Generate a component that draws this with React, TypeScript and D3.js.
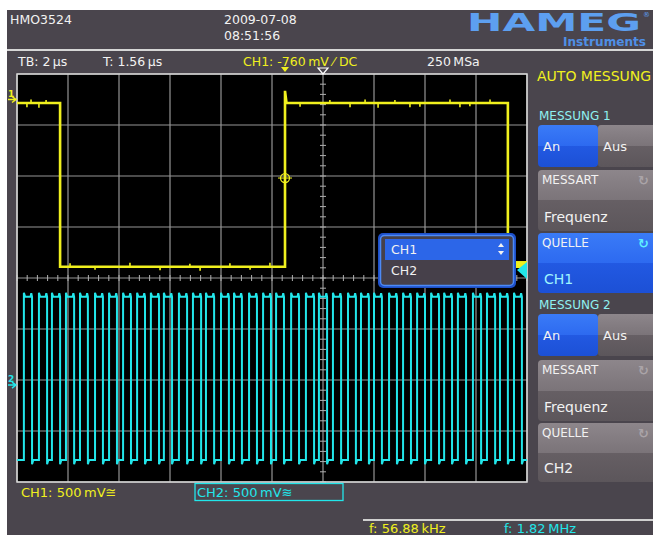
import React from "react";
import * as d3 from "d3";

// time in µs (2 µs/div), amplitude in divisions (centre line = 0)
const ch1Edges = [-10.31, -1.49, 7.25];
const ch1Levels = [3.43, 0.22, 3.43, 0.22];
const ch1Glitches: [number, number][] = [
  [-11.61, -0.08], [-11.45, 0.07], [-11.14, -0.09], [-10.86, 0.06],
  [-9.92, 0.07], [-8.94, -0.06], [-7.57, 0.08], [-6.39, -0.07], [-5.22, 0.06],
  [-4.82, -0.08], [-3.65, 0.07], [-2.86, -0.06], [-2.08, 0.08],
  [-0.9, -0.07], [0.27, 0.06], [1.06, -0.08], [1.65, 0.07], [2.16, -0.09],
  [2.82, 0.06], [3.41, -0.08], [3.8, -0.07], [4.98, 0.07], [5.37, -0.08],
  [5.76, -0.06], [6.55, 0.07],
];
const ch1TrigOvershoot = 3.67;
const ch1TrigLevel = 1.96;

const ch2Rise = [
  -11.73, -11.14, -10.63, -10.08, -9.53, -8.94, -8.39, -7.84, -7.29, -6.75,
  -6.24, -5.65, -5.1, -4.59, -4.0, -3.49, -2.9, -2.35, -1.84, -1.25, -0.67,
  -0.16, 0.39, 0.98, 1.49, 2.0, 2.59, 3.14, 3.69, 4.24, 4.75, 5.29, 5.88,
  6.43, 6.94, 7.49,
];
const ch2Fall = [
  -11.41, -10.82, -10.31, -9.76, -9.22, -8.63, -8.08, -7.53, -6.98, -6.43,
  -5.92, -5.33, -4.78, -4.27, -3.69, -3.18, -2.59, -2.04, -1.53, -0.94, -0.35,
  0.16, 0.71, 1.29, 1.8, 2.31, 2.9, 3.45, 4.0, 4.55, 5.06, 5.61, 6.2, 6.75,
  7.25, 7.8,
];
const ch2High = -0.37;
const ch2Low = -3.57;

const topReadouts = ["TB: 2\u2009\u00b5s", "T: 1.56\u2009\u00b5s"];
const measSources = ["CH1", "CH2"];
const freqReadouts = ["f: 56.88\u2009kHz", "f: 1.82\u2009MHz"];

const FONT = "'DejaVu Sans', sans-serif";
const YEL = "#f0f01e";
const CYAN = "#22e6ea";
const BG = "#4a454d";

const x = d3.scaleLinear().domain([-12, 12]).range([17, 629]);
const y = d3.scaleLinear().domain([-4, 4]).range([482, 74]);
const tMin = -12;
const tMax = 8;
const gx0 = x(tMin);
const gx1 = x(tMax);

const line = d3
  .line<[number, number]>()
  .x((d) => x(d[0]))
  .y((d) => y(d[1]));

function ch1Points(): [number, number][] {
  const pts: [number, number][] = [[tMin, ch1Levels[0]]];
  ch1Edges.forEach((t, i) => {
    pts.push([t, ch1Levels[i]]);
    if (ch1Levels[i + 1] > ch1Levels[i]) {
      pts.push([t, ch1TrigOvershoot]);
      pts.push([t + 0.06, ch1Levels[i + 1]]);
    } else pts.push([t, ch1Levels[i + 1]]);
  });
  pts.push([tMax, ch1Levels[ch1Levels.length - 1]]);
  return pts;
}

function ch2Points(): [number, number][] {
  const pts: [number, number][] = [[tMin, ch2Low]];
  ch2Rise.forEach((r, i) => {
    const f = ch2Fall[i];
    pts.push([r, ch2Low], [r, ch2High + 0.08], [r + 0.05, ch2High]);
    pts.push([f - 0.06, ch2High], [f - 0.03, ch2High + 0.07], [f, ch2High]);
    pts.push([f, ch2Low - 0.08], [f + 0.05, ch2Low]);
  });
  pts.push([tMax, ch2Low]);
  return pts;
}

const Panel = ({ yTop, h, blue, label, value, iconColor }: any) => (
  <g>
    <rect x={538} y={yTop} width={125} height={h} rx={4}
      fill={blue ? "url(#gBlue)" : "url(#gGrey)"} />
    <text x={542} y={yTop + 14} fill="#f2f2f2" fontSize={12}>{label}</text>
    <text x={638} y={yTop + 15} fill={iconColor} fontSize={13}
      fontWeight="bold">{"\u21bb"}</text>
    <text x={544} y={yTop + h - 9} fill={blue ? "#9ff4ff" : "#f2f2f2"}
      fontSize={14}>{value}</text>
  </g>
);

const OnOff = ({ yTop }: { yTop: number }) => (
  <g>
    <rect x={538} y={yTop} width={60} height={42} rx={4} fill="url(#gBlue)" />
    <rect x={598} y={yTop} width={65} height={42} rx={3} fill="url(#gGrey)" />
    <text x={543} y={yTop + 26} fill="#f2f2f2" fontSize={13}>An</text>
    <text x={603} y={yTop + 26} fill="#f2f2f2" fontSize={13}>Aus</text>
  </g>
);

export default function App() {
  const vLines = d3.range(tMin, tMax + 0.01, 2);
  const hLines = d3.range(-4, 4.01, 1);
  const vTicks = d3.range(-4, 4.01, 0.2);
  const hTicks = d3.range(tMin, tMax + 0.01, 0.4);

  return (
    <div style={{ position: "absolute", left: 0, top: 0 }}>
      <svg width={653} height={535} fontFamily={FONT}
        style={{ display: "block" }}>
        <defs>
          <linearGradient id="gBlue" x1="0" x2="0" y1="0" y2="1">
            <stop offset="0" stopColor="#3a7bf7" />
            <stop offset="0.5" stopColor="#2d6af0" />
            <stop offset="0.5" stopColor="#2259e2" />
            <stop offset="1" stopColor="#1c50d6" />
          </linearGradient>
          <linearGradient id="gGrey" x1="0" x2="0" y1="0" y2="1">
            <stop offset="0" stopColor="#8d868b" />
            <stop offset="0.5" stopColor="#7b7479" />
            <stop offset="0.5" stopColor="#665f64" />
            <stop offset="1" stopColor="#5c565b" />
          </linearGradient>
          <clipPath id="grid">
            <rect x={gx0} y={y(4)} width={gx1 - gx0} height={y(-4) - y(4)} />
          </clipPath>
        </defs>

        <rect width={653} height={535} fill="#fff" />
        <rect x={7} y={10} width={646} height={525} fill={BG} />

        {/* header */}
        <text x={10} y={24} fill="#f2f2f2" fontSize={12.5}>HMO3524</text>
        <text x={224} y={24} fill="#f2f2f2" fontSize={12.5}>2009-07-08</text>
        <text x={224} y={40} fill="#f2f2f2" fontSize={12.5}>08:51:56</text>
        <text x={467} y={31} fill="#5d9ff0" fontSize={24} fontWeight="bold"
          textLength={174} lengthAdjust="spacingAndGlyphs">HAMEG</text>
        <text x={643} y={17} fill="#5d9ff0" fontSize={7}>{"\u00ae"}</text>
        <text x={563} y={46} fill="#4f8fe6" fontSize={13} fontWeight="bold"
          textLength={83} lengthAdjust="spacingAndGlyphs">Instruments</text>
        <line x1={7} x2={653} y1={50} y2={50} stroke="#d6d6d6" strokeWidth={2} />

        <text x={18} y={66} fill="#f2f2f2" fontSize={12.5}>{topReadouts[0]}</text>
        <text x={103} y={66} fill="#f2f2f2" fontSize={12.5}>{topReadouts[1]}</text>
        <text x={243} y={66} fill={YEL} fontSize={12.5}>
          {"CH1: -760\u2009mV \u2044 DC"}
        </text>
        <text x={427} y={66} fill="#f2f2f2" fontSize={12.5}>{"250\u2009MSa"}</text>

        {/* grid */}
        <rect x={gx0} y={y(4)} width={gx1 - gx0} height={y(-4) - y(4)} fill="#000" />
        {vLines.map((t) => (
          <line key={"v" + t} x1={x(t)} x2={x(t)} y1={y(4)} y2={y(-4)}
            stroke="#959595" strokeWidth={1.2} />
        ))}
        {hLines.map((v) => (
          <line key={"h" + v} x1={gx0} x2={gx1} y1={y(v)} y2={y(v)}
            stroke="#959595" strokeWidth={1.2} />
        ))}
        {vTicks.map((v) => (
          <line key={"vt" + v} x1={x(0) - 3} x2={x(0) + 3} y1={y(v)} y2={y(v)}
            stroke="#b0b0b0" />
        ))}
        {hTicks.map((t) => (
          <line key={"ht" + t} x1={x(t)} x2={x(t)} y1={y(0) - 3} y2={y(0) + 3}
            stroke="#b0b0b0" />
        ))}
        <rect x={gx0} y={y(4)} width={gx1 - gx0} height={y(-4) - y(4)}
          fill="none" stroke="#d8d8d8" strokeWidth={1.5} />

        {/* traces */}
        <g clipPath="url(#grid)">
          <path d={line(ch2Points()) || ""} fill="none" stroke={CYAN}
            strokeWidth={2} strokeLinejoin="miter" />
          <path d={line(ch1Points()) || ""} fill="none" stroke={YEL}
            strokeWidth={2.6} />
          {ch1Glitches.map(([t, dv]) => {
            const i = d3.bisectRight(ch1Edges, t);
            const lvl = ch1Levels[i];
            return (
              <line key={"g" + t} x1={x(t)} x2={x(t)} y1={y(lvl)} y2={y(lvl + dv)}
                stroke={YEL} strokeWidth={1.6} />
            );
          })}
          <circle cx={x(ch1Edges[1])} cy={y(ch1TrigLevel)} r={4.5} fill="none"
            stroke={YEL} strokeWidth={1.3} />
          <line x1={x(ch1Edges[1]) - 7} x2={x(ch1Edges[1]) + 7}
            y1={y(ch1TrigLevel)} y2={y(ch1TrigLevel)} stroke={YEL} strokeWidth={1} />
        </g>

        {/* channel markers */}
        <text x={8} y={y(3.5) - 3} fill={YEL} fontSize={9} fontWeight="bold">1</text>
        <path d={`M8,${y(3.5)} H15 M12,${y(3.5) - 3} L16,${y(3.5)} L12,${y(3.5) + 3}`}
          stroke={YEL} strokeWidth={1.5} fill="none" />
        <text x={8} y={y(-2.1) - 3} fill={CYAN} fontSize={9} fontWeight="bold">2</text>
        <path d={`M8,${y(-2.1)} H15 M12,${y(-2.1) - 3} L16,${y(-2.1)} L12,${y(-2.1) + 3}`}
          stroke={CYAN} strokeWidth={1.5} fill="none" />

        {/* trigger markers */}
        <path d={`M${x(ch1Edges[1]) - 4},67 h8 l-4,5 z`} fill={YEL} />
        <path d={`M${x(0) - 5},68 h10 l-5,6 z`} fill="none" stroke="#fff" strokeWidth={1.2} />
        <rect x={516} y={y(ch1TrigLevel) + 83} width={11} height={6} fill={YEL} />
        <path d={`M517,270 L527,262 L527,279 Z`} fill={CYAN} />

        {/* source dropdown */}
        <rect x={378} y={233} width={138} height={55} rx={5} fill="#1d4fc8" />
        <rect x={380.5} y={235.5} width={133} height={50} rx={4} fill="#46404a"
          stroke="#4d8af5" strokeWidth={1.5} />
        <rect x={385} y={239} width={124} height={21} fill="#2c66e8" />
        <text x={391} y={254} fill="#f2f2f2" fontSize={12.5}>{measSources[0]}</text>
        <text x={391} y={275} fill="#f2f2f2" fontSize={12.5}>{measSources[1]}</text>
        <path d="M498,247 l3,-4 l3,4 z M498,251 l3,4 l3,-4 z" fill="#f2f2f2" />

        {/* right menu */}
        <text x={537} y={81} fill={YEL} fontSize={14}>AUTO MESSUNG</text>
        <text x={539} y={120} fill="#8ff0f0" fontSize={12}>MESSUNG 1</text>
        <OnOff yTop={125} />
        <Panel yTop={170} h={61} blue={false} label="MESSART" value="Frequenz"
          iconColor="#aaa4a8" />
        <Panel yTop={233} h={60} blue={true} label="QUELLE" value={measSources[0]}
          iconColor="#5ff0ff" />
        <text x={539} y={309} fill="#8ff0f0" fontSize={12}>MESSUNG 2</text>
        <OnOff yTop={314} />
        <Panel yTop={360} h={61} blue={false} label="MESSART" value="Frequenz"
          iconColor="#aaa4a8" />
        <Panel yTop={423} h={59} blue={false} label="QUELLE" value={measSources[1]}
          iconColor="#aaa4a8" />

        {/* bottom */}
        <text x={21} y={497} fill={YEL} fontSize={13}>{"CH1: 500\u2009mV\u2245"}</text>
        <rect x={195} y={483.5} width={148} height={17} fill="none" stroke={CYAN}
          strokeWidth={1.3} />
        <text x={197} y={497} fill={CYAN} fontSize={13}>{"CH2: 500\u2009mV\u224b"}</text>
        <line x1={363} x2={653} y1={520} y2={520} stroke="#d0d0d0" strokeWidth={2} />
        <text x={369} y={533} fill={YEL} fontSize={13}>{freqReadouts[0]}</text>
        <text x={504} y={533} fill={CYAN} fontSize={13}>{freqReadouts[1]}</text>
      </svg>
    </div>
  );
}
